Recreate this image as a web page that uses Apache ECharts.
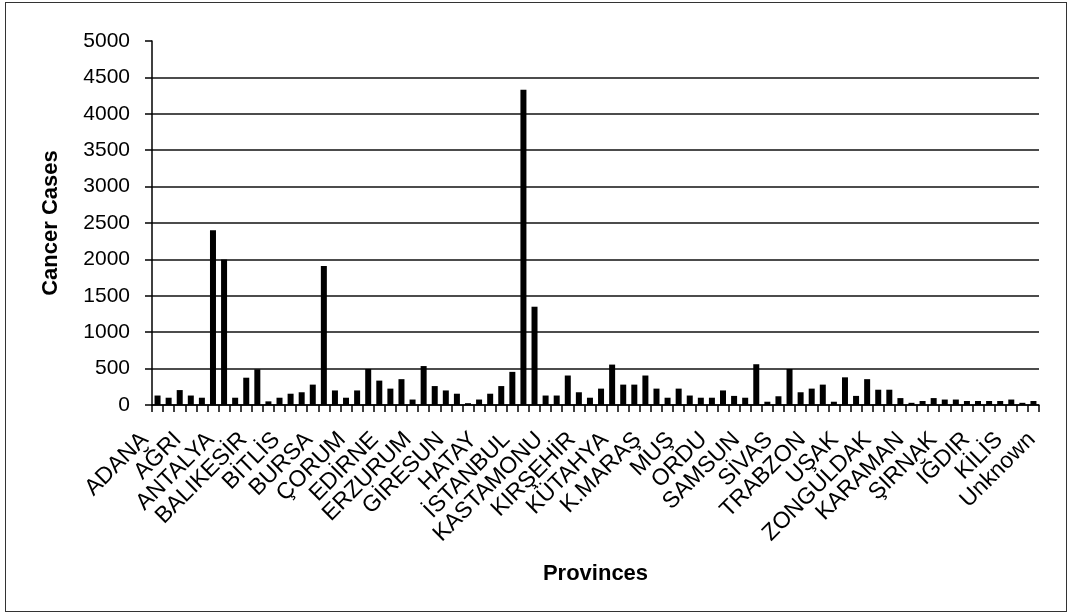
<!DOCTYPE html>
<html>
<head>
<meta charset="UTF-8">
<title>Cancer Cases by Province</title>
<style>
  html, body { margin: 0; padding: 0; background: #fff; }
  #main { position: absolute; left: 5px; top: 2px; width: 1060px; height: 608px; border: 1px solid #333; }
</style>
</head>
<body>
<div id="main"></div>
<script src="https://cdn.jsdelivr.net/npm/echarts@6/dist/echarts.min.js"></script>
<script>
// provinces in plate order (no Osmaniye / Düzce), plus Unknown
var provinces = ['ADANA','ADIYAMAN','AFYON','AĞRI','AMASYA','ANKARA','ANTALYA','ARTVİN','AYDIN','BALIKESİR',
  'BİLECİK','BİNGÖL','BİTLİS','BOLU','BURDUR','BURSA','ÇANAKKALE','ÇANKIRI','ÇORUM','DENİZLİ',
  'DİYARBAKIR','EDİRNE','ELAZIĞ','ERZİNCAN','ERZURUM','ESKİŞEHİR','GAZİANTEP','GİRESUN','GÜMÜŞHANE','HAKKARİ',
  'HATAY','ISPARTA','İÇEL','İSTANBUL','İZMİR','KARS','KASTAMONU','KAYSERİ','KIRKLARELİ','KIRŞEHİR',
  'KOCAELİ','KONYA','KÜTAHYA','MALATYA','MANİSA','K.MARAŞ','MARDİN','MUĞLA','MUŞ','NEVŞEHİR',
  'NİĞDE','ORDU','RİZE','SAKARYA','SAMSUN','SİİRT','SİNOP','SİVAS','TEKİRDAĞ','TOKAT',
  'TRABZON','TUNCELİ','ŞANLIURFA','UŞAK','VAN','YOZGAT','ZONGULDAK','AKSARAY','BAYBURT','KARAMAN',
  'KIRIKKALE','BATMAN','ŞIRNAK','BARTIN','ARDAHAN','IĞDIR','YALOVA','KARABÜK','KİLİS','Unknown'];

var cases = [130,100,205,130,100,2400,2000,100,375,490,
  50,100,155,175,280,1910,200,100,200,495,
  335,225,355,75,535,260,200,155,25,75,
  155,260,455,4330,1350,130,130,405,175,100,
  225,555,280,280,405,225,100,225,130,100,
  100,200,125,100,560,45,120,495,175,225,
  280,45,380,125,355,210,210,95,30,55,
  95,75,75,55,55,55,55,75,30,55];

// labels printed under the axis
var tickLabels = ['ADANA','AĞRI','ANTALYA','BALIKESİR','BİTLİS','BURSA','ÇORUM','EDİRNE','ERZURUM','GİRESUN',
  'HATAY','İSTANBUL','KASTAMONU','KIRŞEHİR','KÜTAHYA','K.MARAŞ','MUŞ','ORDU','SAMSUN','SİVAS',
  'TRABZON','UŞAK','ZONGULDAK','KARAMAN','ŞIRNAK','IĞDIR','KİLİS','Unknown'];

var yTicks = [0, 5000, 500];

var myChart = echarts.init(document.getElementById('main'));
var font = '"Liberation Sans", Arial, sans-serif';

myChart.setOption({
  animation: false,
  grid: { left: 146, right: 27, top: 38, bottom: 206 },
  xAxis: [{
    type: 'category',
    data: provinces,
    name: 'Provinces',
    nameLocation: 'middle',
    nameGap: 158,
    nameTextStyle: { fontFamily: font, fontSize: 22, fontWeight: 'bold', color: '#000' },
    axisLine: { lineStyle: { color: '#000', width: 1.5 } },
    axisTick: { show: true, interval: 0, length: 7, lineStyle: { color: '#000', width: 1.5 } },
    axisLabel: { show: false }
  }, {
    type: 'category',
    data: tickLabels,
    position: 'bottom',
    boundaryGap: false,
    axisLine: { show: false },
    axisTick: { show: false },
    axisLabel: {
      interval: 0,
      rotate: 45,
      margin: 24,
      padding: [0, 10, 0, 0],
      fontFamily: font,
      fontSize: 23,
      color: '#000'
    }
  }],
  yAxis: {
    type: 'value',
    min: yTicks[0],
    max: yTicks[1],
    interval: yTicks[2],
    name: 'Cancer Cases',
    nameLocation: 'middle',
    nameGap: 90,
    nameTextStyle: { fontFamily: font, fontSize: 22, fontWeight: 'bold', color: '#000' },
    axisLine: { show: true, lineStyle: { color: '#000', width: 1.5 } },
    axisTick: { show: true, length: 7, lineStyle: { color: '#000', width: 1.5 } },
    axisLabel: {
      margin: 22, fontFamily: font, fontSize: 21, color: '#000',
      formatter: function (v) { return String(v); }
    },
    splitLine: { show: true, showMaxLine: false, lineStyle: { color: '#111', width: 1.5 } }
  },
  series: [{
    name: 'Cancer Cases',
    type: 'bar',
    xAxisIndex: 0,
    barWidth: 6,
    itemStyle: { color: '#000' },
    data: cases
  }]
});
</script>
</body>
</html>
